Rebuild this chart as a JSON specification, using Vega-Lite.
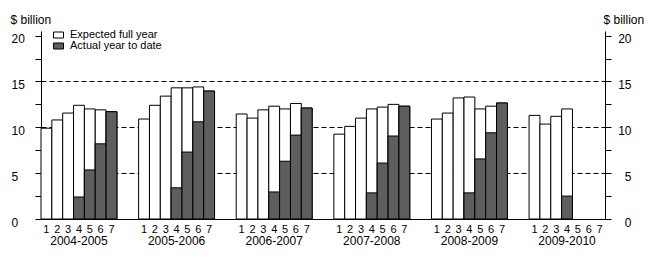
{
  "$schema": "https://vega.github.io/schema/vega-lite/v6.json",
  "autosize": "none",
  "width": 564,
  "height": 188,
  "padding": {"left": 41, "top": 31, "right": 50, "bottom": 39},
  "config": {
    "font": "Liberation Sans",
    "view": {"stroke": null},
    "axis": {"labelFont": "Liberation Sans", "titleFont": "Liberation Sans", "labelFontSize": 12, "titleFontSize": 12, "titleFontWeight": "normal", "labelColor": "black", "titleColor": "black", "domainColor": "black", "tickColor": "black"}
  },
  "data": {
    "values": [
      {"year": "2004-2005", "month": 1, "expected": 9.9, "actual": null},
      {"year": "2004-2005", "month": 2, "expected": 10.8, "actual": null},
      {"year": "2004-2005", "month": 3, "expected": 11.55, "actual": null},
      {"year": "2004-2005", "month": 4, "expected": 12.4, "actual": 2.4},
      {"year": "2004-2005", "month": 5, "expected": 12.0, "actual": 5.35},
      {"year": "2004-2005", "month": 6, "expected": 11.9, "actual": 8.2},
      {"year": "2004-2005", "month": 7, "expected": 11.7, "actual": 11.7},
      {"year": "2005-2006", "month": 1, "expected": 10.9, "actual": null},
      {"year": "2005-2006", "month": 2, "expected": 12.4, "actual": null},
      {"year": "2005-2006", "month": 3, "expected": 13.4, "actual": null},
      {"year": "2005-2006", "month": 4, "expected": 14.3, "actual": 3.4},
      {"year": "2005-2006", "month": 5, "expected": 14.3, "actual": 7.3},
      {"year": "2005-2006", "month": 6, "expected": 14.4, "actual": 10.6},
      {"year": "2005-2006", "month": 7, "expected": 13.95, "actual": 13.95},
      {"year": "2006-2007", "month": 1, "expected": 11.45, "actual": null},
      {"year": "2006-2007", "month": 2, "expected": 11.0, "actual": null},
      {"year": "2006-2007", "month": 3, "expected": 11.9, "actual": null},
      {"year": "2006-2007", "month": 4, "expected": 12.3, "actual": 2.95},
      {"year": "2006-2007", "month": 5, "expected": 12.0, "actual": 6.3},
      {"year": "2006-2007", "month": 6, "expected": 12.6, "actual": 9.15},
      {"year": "2006-2007", "month": 7, "expected": 12.1, "actual": 12.1},
      {"year": "2007-2008", "month": 1, "expected": 9.25, "actual": null},
      {"year": "2007-2008", "month": 2, "expected": 10.1, "actual": null},
      {"year": "2007-2008", "month": 3, "expected": 11.0, "actual": null},
      {"year": "2007-2008", "month": 4, "expected": 12.0, "actual": 2.85},
      {"year": "2007-2008", "month": 5, "expected": 12.2, "actual": 6.1},
      {"year": "2007-2008", "month": 6, "expected": 12.5, "actual": 9.05},
      {"year": "2007-2008", "month": 7, "expected": 12.3, "actual": 12.3},
      {"year": "2008-2009", "month": 1, "expected": 10.9, "actual": null},
      {"year": "2008-2009", "month": 2, "expected": 11.55, "actual": null},
      {"year": "2008-2009", "month": 3, "expected": 13.2, "actual": null},
      {"year": "2008-2009", "month": 4, "expected": 13.3, "actual": 2.85},
      {"year": "2008-2009", "month": 5, "expected": 12.0, "actual": 6.55},
      {"year": "2008-2009", "month": 6, "expected": 12.3, "actual": 9.4},
      {"year": "2008-2009", "month": 7, "expected": 12.65, "actual": 12.65},
      {"year": "2009-2010", "month": 1, "expected": 11.3, "actual": null},
      {"year": "2009-2010", "month": 2, "expected": 10.35, "actual": null},
      {"year": "2009-2010", "month": 3, "expected": 11.2, "actual": null},
      {"year": "2009-2010", "month": 4, "expected": 12.0, "actual": 2.5},
      {"year": "2009-2010", "month": 5, "expected": null, "actual": null},
      {"year": "2009-2010", "month": 6, "expected": null, "actual": null},
      {"year": "2009-2010", "month": 7, "expected": null, "actual": null}
    ]
  },
  "encoding": {
    "x": {
      "field": "year", "type": "nominal", "sort": null,
      "scale": {"paddingInner": 0.2222, "paddingOuter": 0},
      "axis": {"title": null, "ticks": false, "labelPadding": 16, "labelAngle": 0, "labelFontSize": 12, "domainColor": "black", "labelColor": "black"}
    },
    "xOffset": {"field": "month", "type": "ordinal", "scale": {"paddingInner": 0, "paddingOuter": 0}}
  },
  "layer": [
    {
      "mark": {"type": "bar", "stroke": "black", "strokeWidth": 1},
      "encoding": {
        "y": {
          "field": "expected", "type": "quantitative",
          "scale": {"domain": [0, 20.5], "nice": false},
          "axis": {
            "orient": "left",
            "title": "$ billion", "titleAngle": 0, "titleAlign": "left", "titleBaseline": "alphabetic", "titleX": -31, "titleY": -8,
            "values": [0, 2.5, 5, 7.5, 10, 12.5, 15, 17.5, 20],
            "labelExpr": "datum.value % 5 === 0 ? datum.label : ''",
            "tickSize": 6, "labelAlign": "left", "labelPadding": 24, "labelBaseline": "alphabetic", "labelOffset": 7,
            "grid": true, "gridColor": "black", "gridDash": [5, 3],
            "gridOpacity": {"condition": {"test": "datum.value % 5 === 0 && datum.value > 0 && datum.value < 20", "value": 1}, "value": 0},
            "labelOverlap": false
          }
        },
        "color": {
          "datum": "Expected full year", "type": "nominal",
          "scale": {"domain": ["Expected full year", "Actual year to date"], "range": ["white", "#5e5e5e"]},
          "legend": {
            "title": null, "orient": "none", "legendX": 12, "legendY": -1.5,
            "symbolType": "M-1,-0.6H1V0.6H-1Z", "symbolSize": 100, "symbolStrokeColor": "black", "symbolStrokeWidth": 1,
            "labelFontSize": 11, "labelOffset": 6, "rowPadding": -1, "padding": 0, "labelColor": "black", "labelFont": "Liberation Sans"
          }
        }
      }
    },
    {
      "mark": {"type": "bar", "stroke": "black", "strokeWidth": 1},
      "encoding": {
        "y": {
          "field": "actual", "type": "quantitative",
          "scale": {"domain": [0, 20.5], "nice": false},
          "axis": {
            "orient": "right",
            "title": "$ billion", "titleAngle": 0, "titleAlign": "left", "titleBaseline": "alphabetic", "titleX": -2, "titleY": -8,
            "values": [0, 2.5, 5, 7.5, 10, 12.5, 15, 17.5, 20],
            "labelExpr": "datum.value % 5 === 0 ? datum.label : ''",
            "tickSize": 6, "labelAlign": "right", "labelPadding": 20, "labelBaseline": "alphabetic", "labelOffset": 7,
            "grid": false, "labelOverlap": false
          }
        },
        "color": {"datum": "Actual year to date", "type": "nominal"}
      }
    },
    {
      "mark": {"type": "text", "baseline": "alphabetic", "dy": 14, "fontSize": 11, "color": "black", "font": "Liberation Sans"},
      "encoding": {
        "y": {"datum": 0, "type": "quantitative", "axis": null},
        "text": {"field": "month", "type": "ordinal"}
      }
    }
  ],
  "resolve": {"axis": {"y": "independent"}}
}
